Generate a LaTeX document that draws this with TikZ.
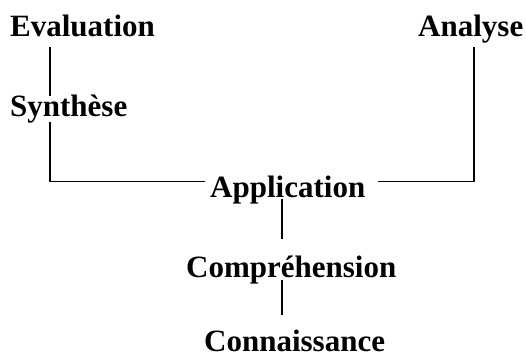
\documentclass[tikz,border=0pt]{standalone}
\usepackage{fontspec}
\setmainfont{Liberation Serif}
\begin{document}
\begin{tikzpicture}[x=1pt,y=-1pt,
  lbl/.style={font=\bfseries\fontsize{31}{37}\selectfont, inner sep=0pt, anchor=base west},
  conn/.style={line width=1.3pt}]
\useasboundingbox (0,0) rectangle (526,358);
% labels
\node[lbl] (eval) at (10,37) {Evaluation};
\node[lbl] (anal) at (418,37) {Analyse};
\node[lbl] (synt) at (10,117) {Synthèse};
\node[lbl] (appl) at (210,197) {Application};
\node[lbl] (comp) at (186,277) {Compréhension};
\node[lbl] (conn) at (204,351) {Connaissance};
% connector points
\coordinate (eA) at (50,47);
\coordinate (eB) at (50,96);
\coordinate (sA) at (50,122);
\coordinate (cl) at (50,181.5);
\coordinate (al) at (205,181.5);
\coordinate (ar) at (378,181.5);
\coordinate (cr) at (474,181.5);
\coordinate (rA) at (474,47);
\coordinate (aB) at (282,199);
\coordinate (cT) at (282,239);
\coordinate (cB) at (282,280);
\coordinate (nT) at (282,315);
% connectors
\draw[conn] (eA) -- (eB);
\draw[conn] (sA) -- (cl) -- (al);
\draw[conn] (ar) -- (cr) -- (rA);
\draw[conn] (aB) -- (cT);
\draw[conn] (cB) -- (nT);
\end{tikzpicture}
\end{document}
